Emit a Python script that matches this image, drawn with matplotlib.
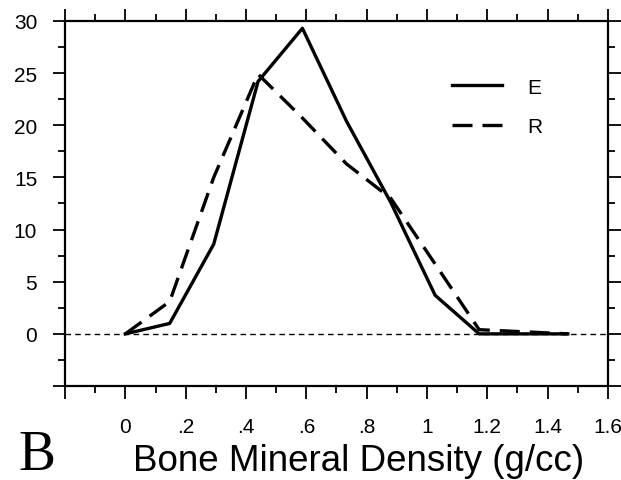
import matplotlib
matplotlib.use("Agg")
import matplotlib.pyplot as plt
from matplotlib.ticker import MultipleLocator

# bone mineral density bins (g/cc) and percent of samples
bmd = [0, 0.147, 0.293, 0.44, 0.587, 0.733, 0.88, 1.027, 1.173, 1.32, 1.467]
pct_e = [0, 1.0, 8.6, 24.2, 29.3, 20.4, 12.6, 3.7, 0.0, 0.0, 0.0]
pct_r = [0, 3.1, 15.0, 24.9, 20.7, 16.3, 13.0, 6.7, 0.4, 0.2, 0.0]

x_ticks = [0, 0.2, 0.4, 0.6, 0.8, 1.0, 1.2, 1.4, 1.6]
x_tick_labels = ["0", ".2", ".4", ".6", ".8", "1", "1.2", "1.4", "1.6"]
y_ticks = [0, 5, 10, 15, 20, 25, 30]

plt.rcParams["font.family"] = ["Liberation Sans", "DejaVu Sans"]

fig = plt.figure(figsize=(6.21, 4.81), dpi=100)
ax = fig.add_axes([0.1047, 0.1954, 0.8743, 0.7589])

ax.axhline(0, color="black", lw=1.0, ls=(0, (4, 3)), zorder=1)
ax.plot(bmd, pct_e, color="black", lw=2.4, label="E")
ax.plot(bmd, pct_r, color="black", lw=2.4, ls=(0, (6, 3)), label="R")

ax.set_xlim(-0.2, 1.6)
ax.set_ylim(-5, 30)
ax.set_xticks([-0.2] + x_ticks)
ax.set_xticklabels([""] + x_tick_labels)
ax.xaxis.set_minor_locator(MultipleLocator(0.1))
ax.set_yticks([-5] + y_ticks)
ax.set_yticklabels([""] + [str(v) for v in y_ticks])
ax.yaxis.set_minor_locator(MultipleLocator(2.5))

ax.tick_params(which="both", direction="out", top=True, right=True,
               labelsize=15, width=1.3)
ax.tick_params(axis="x", pad=13)
ax.tick_params(axis="y", pad=11)
ax.tick_params(which="major", length=9)
ax.tick_params(which="minor", length=5)
for s in ax.spines.values():
    s.set_linewidth(1.6)

ax.set_xlabel("Bone Mineral Density (g/cc)", fontsize=26.5, va="center")
ax.xaxis.set_label_coords(0.54, -0.205)

leg = ax.legend(loc="upper left", bbox_to_anchor=(0.713, 0.845), frameon=False,
                fontsize=15, handlelength=2.4, handletextpad=1.2,
                labelspacing=1.0, borderpad=0, borderaxespad=0)

fig.text(0.03, 0.022, "B", family="Liberation Serif", fontsize=40)

plt.savefig("out.png", dpi=100)
